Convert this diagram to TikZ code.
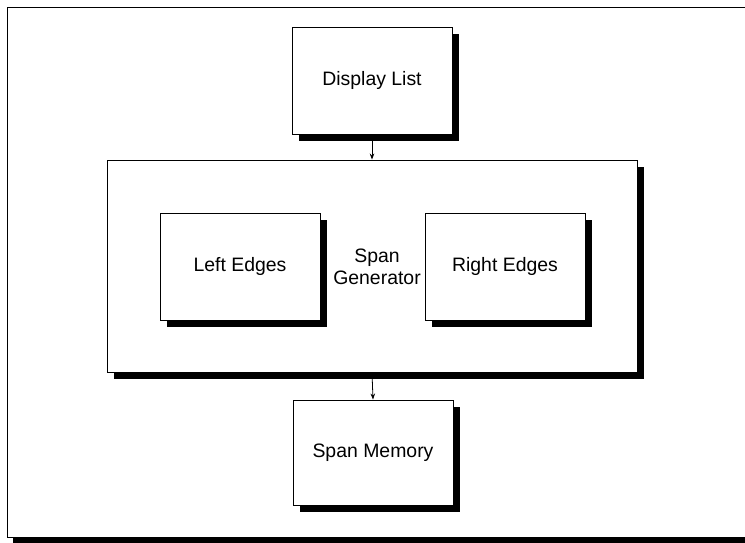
\documentclass[tikz,border=0pt]{standalone}
\usepackage{fontspec}
\setmainfont{Liberation Sans}
\usetikzlibrary{shadows,arrows.meta}
\begin{document}
\begin{tikzpicture}[x=1bp,y=-1bp,
  box/.style={draw=black, line width=0.9bp, fill=white, inner sep=0pt,
    font=\fontsize{19.5}{22}\selectfont, align=center,
    drop shadow={shadow xshift=7bp, shadow yshift=-7bp, fill=black, opacity=1}},
  lbl/.style={inner sep=0pt, font=\fontsize{19.5}{22}\selectfont, align=center},
  conn/.style={-{Stealth[length=6bp,width=4.5bp]}, line width=0.8bp}]
\useasboundingbox (0,0) rectangle (745,543);
\clip (0,0) rectangle (745,543);
% outer frame with shadow
\fill[black] (13,13) rectangle (760,550);
\draw[line width=0.9bp, fill=white] (7,7) rectangle (752,537.5);
% boxes
\node[box, minimum width=160bp, minimum height=107bp] (display) at (372,80.5) {Display List};
\node[box, minimum width=530bp, minimum height=212bp] (gen) at (372,266) {};
\node[box, minimum width=160bp, minimum height=107bp] (left) at (240,266.5) {Left Edges};
\node[box, minimum width=160bp, minimum height=107bp] (right) at (505,266.5) {Right Edges};
\node[lbl] (genlabel) at (377,267) {Span\\Generator};
\node[box, minimum width=160bp, minimum height=105bp] (mem) at (373,452.5) {Span Memory};
% connectors
\draw[conn] (display.south) -- (gen.north);
\draw[conn] (gen.south) -- (mem.north);
\end{tikzpicture}
\end{document}
